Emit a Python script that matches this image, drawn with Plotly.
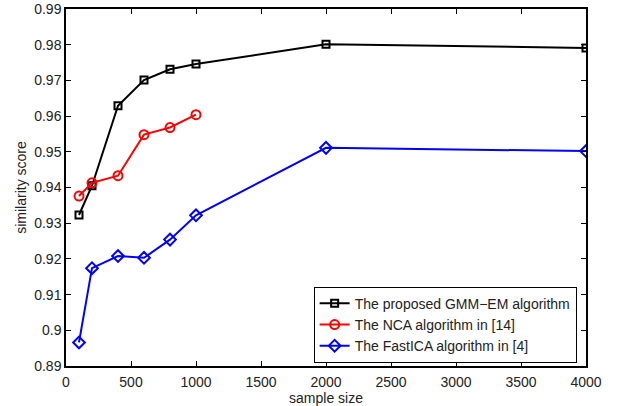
import plotly.graph_objects as go

x_gmm = [100, 200, 400, 600, 800, 1000, 2000, 4000]
y_gmm = [0.9323, 0.9405, 0.9629, 0.9701, 0.9731, 0.9746, 0.9801, 0.9791]
x_nca = [100, 200, 400, 600, 800, 1000]
y_nca = [0.9376, 0.9413, 0.9433, 0.9548, 0.9568, 0.9604]
x_ica = [100, 200, 400, 600, 800, 1000, 2000, 4000]
y_ica = [0.8966, 0.9174, 0.9208, 0.9203, 0.9254, 0.9322, 0.9511, 0.9502]

x_ticks = [0, 500, 1000, 1500, 2000, 2500, 3000, 3500, 4000]
y_ticks = [0.89, 0.90, 0.91, 0.92, 0.93, 0.94, 0.95, 0.96, 0.97, 0.98, 0.99]
y_ticklabels = ["0.89", "0.9", "0.91", "0.92", "0.93", "0.94", "0.95", "0.96", "0.97", "0.98", "0.99"]

FONT = "Liberation Sans, Arial, sans-serif"

fig = go.Figure()
fig.add_trace(go.Scatter(x=x_gmm, y=y_gmm, mode="lines+markers", name="The proposed GMM\u2212EM algorithm",
                         line=dict(color="black", width=2),
                         marker=dict(symbol="square-open", size=7, color="black", line=dict(width=2))))
fig.add_trace(go.Scatter(x=x_nca, y=y_nca, mode="lines+markers", name="The NCA algorithm in [14]",
                         line=dict(color="red", width=2),
                         marker=dict(symbol="circle-open", size=9, color="red", line=dict(width=2))))
fig.add_trace(go.Scatter(x=x_ica, y=y_ica, mode="lines+markers", name="The FastICA algorithm in [4]",
                         line=dict(color="blue", width=2),
                         marker=dict(symbol="diamond-open", size=9, color="blue", line=dict(width=2))))

axis_common = dict(showline=True, linecolor="black", linewidth=1.5, mirror="allticks",
                   ticks="inside", ticklen=5, tickcolor="black", showgrid=False, zeroline=False,
                   automargin=False, ticklabeloverflow="allow",
                   tickfont=dict(family=FONT, size=14, color="#222"))

fig.update_xaxes(range=[0, 4000], tickvals=x_ticks, ticklabelstandoff=2,
                 title=dict(text="sample size", standoff=2, font=dict(family=FONT, size=14, color="#222")),
                 **axis_common)
fig.update_yaxes(range=[0.89, 0.99], tickvals=y_ticks, ticktext=y_ticklabels, ticklabelstandoff=0,
                 title=dict(text="similarity score", standoff=4, font=dict(family=FONT, size=14, color="#222")),
                 **axis_common)

fig.update_layout(width=618, height=406, margin=dict(l=66, r=32, t=9, b=40),
                  plot_bgcolor="white", paper_bgcolor="white",
                  legend=dict(x=0.982, y=0.222, xanchor="right", yanchor="top",
                              bordercolor="black", borderwidth=1, bgcolor="white",
                              font=dict(family=FONT, size=14, color="#222"),
                              tracegroupgap=0, itemwidth=30))

fig.write_html("out.html")
